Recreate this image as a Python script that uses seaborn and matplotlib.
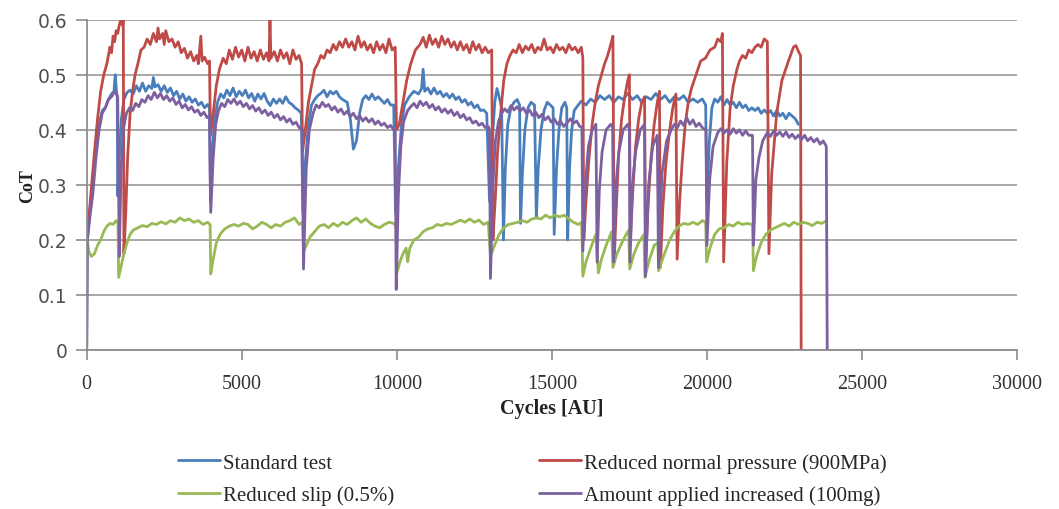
import matplotlib
matplotlib.use("Agg")
import matplotlib.pyplot as plt
import seaborn as sns
import pandas as pd
from matplotlib.lines import Line2D

series_names = ["Standard test", "Reduced normal pressure (900MPa)",
                "Reduced slip (0.5%)", "Amount applied increased (100mg)"]
series_colors = ["#4a7ebb", "#be4b48", "#98b954", "#7d60a0"]

x_ticks = [0, 5000, 10000, 15000, 20000, 25000, 30000]
y_ticks = [0, 0.1, 0.2, 0.3, 0.4, 0.5, 0.6]
y_tick_labels = ["0", "0.1", "0.2", "0.3", "0.4", "0.5", "0.6"]

# (cycles, CoT)
standard_test = [(0,0.0),(20,0.20),(100,0.25),(200,0.31),(300,0.37),(400,0.41),(500,0.435),(600,0.44),(700,0.455),(800,0.465),(880,0.47),(920,0.50),(960,0.47),(985,0.46),(1000,0.28),(1060,0.36),(1120,0.42),(1200,0.455),(1300,0.468),(1400,0.472),(1500,0.465),(1600,0.48),(1700,0.47),(1800,0.485),(1900,0.47),(2000,0.48),(2100,0.475),(2150,0.495),(2200,0.478),(2300,0.482),(2400,0.47),(2500,0.48),(2600,0.468),(2700,0.476),(2800,0.462),(2900,0.47),(3000,0.456),(3100,0.465),(3200,0.452),(3300,0.46),(3400,0.45),(3500,0.456),(3600,0.445),(3700,0.45),(3800,0.44),(3900,0.446),(3960,0.44),(3990,0.27),(4060,0.37),(4130,0.42),(4220,0.45),(4320,0.465),(4420,0.458),(4520,0.472),(4620,0.462),(4720,0.476),(4820,0.46),(4920,0.47),(5020,0.462),(5120,0.472),(5220,0.458),(5320,0.466),(5420,0.452),(5520,0.465),(5620,0.456),(5720,0.466),(5820,0.452),(5920,0.444),(6020,0.456),(6120,0.448),(6220,0.456),(6320,0.448),(6420,0.46),(6520,0.45),(6620,0.446),(6720,0.44),(6820,0.436),(6920,0.43),(6970,0.25),(7050,0.34),(7150,0.41),(7250,0.445),(7350,0.455),(7450,0.462),(7550,0.466),(7650,0.472),(7750,0.46),(7850,0.47),(7950,0.465),(8050,0.47),(8150,0.46),(8250,0.455),(8400,0.45),(8500,0.42),(8600,0.365),(8700,0.38),(8800,0.43),(8900,0.455),(9000,0.462),(9100,0.455),(9200,0.465),(9300,0.455),(9400,0.46),(9500,0.454),(9600,0.448),(9700,0.455),(9800,0.445),(9900,0.445),(9960,0.25),(10050,0.33),(10150,0.41),(10250,0.445),(10400,0.46),(10550,0.47),(10700,0.465),(10800,0.475),(10850,0.51),(10900,0.47),(11000,0.476),(11100,0.465),(11200,0.476),(11300,0.465),(11400,0.47),(11500,0.46),(11600,0.466),(11700,0.458),(11800,0.465),(11900,0.455),(12000,0.46),(12100,0.45),(12200,0.455),(12300,0.445),(12400,0.45),(12500,0.44),(12600,0.445),(12700,0.435),(12800,0.436),(12900,0.43),(12990,0.27),(13080,0.38),(13160,0.45),(13230,0.475),(13300,0.46),(13380,0.44),(13440,0.20),(13500,0.33),(13580,0.41),(13680,0.44),(13780,0.45),(13880,0.455),(13960,0.445),(13990,0.23),(14050,0.32),(14130,0.40),(14230,0.44),(14330,0.45),(14440,0.445),(14500,0.24),(14560,0.33),(14650,0.40),(14750,0.435),(14850,0.45),(14950,0.445),(15040,0.44),(15075,0.21),(15150,0.33),(15230,0.40),(15320,0.44),(15420,0.45),(15480,0.44),(15510,0.20),(15570,0.33),(15640,0.40),(15720,0.435),(15850,0.445),(15950,0.452),(16100,0.445),(16250,0.456),(16400,0.45),(16550,0.462),(16700,0.455),(16850,0.462),(17000,0.45),(17150,0.46),(17300,0.455),(17450,0.466),(17600,0.455),(17750,0.462),(17900,0.45),(18050,0.46),(18200,0.455),(18350,0.466),(18500,0.455),(18650,0.462),(18800,0.45),(18950,0.46),(19100,0.455),(19250,0.462),(19400,0.45),(19550,0.456),(19700,0.45),(19850,0.456),(19960,0.445),(20000,0.27),(20080,0.38),(20160,0.44),(20250,0.456),(20350,0.45),(20450,0.46),(20550,0.445),(20650,0.455),(20750,0.445),(20850,0.45),(20950,0.44),(21050,0.45),(21150,0.44),(21250,0.445),(21350,0.435),(21450,0.44),(21550,0.435),(21650,0.44),(21750,0.43),(21850,0.436),(21950,0.43),(22050,0.435),(22150,0.425),(22250,0.435),(22350,0.425),(22450,0.43),(22550,0.42),(22650,0.43),(22750,0.425),(22850,0.42),(22950,0.41)]

reduced_pressure = [(0,0.20),(100,0.26),(250,0.36),(350,0.42),(450,0.47),(550,0.50),(650,0.52),(750,0.55),(800,0.54),(850,0.57),(900,0.56),(950,0.58),(1000,0.575),(1050,0.59),(1100,0.60),(1150,0.59),(1180,0.60),(1200,0.175),(1260,0.25),(1320,0.35),(1400,0.43),(1480,0.47),(1560,0.50),(1650,0.52),(1750,0.545),(1850,0.55),(1950,0.565),(2050,0.555),(2150,0.575),(2250,0.56),(2300,0.585),(2350,0.565),(2450,0.575),(2500,0.555),(2550,0.58),(2650,0.56),(2750,0.565),(2850,0.55),(2950,0.56),(3050,0.54),(3150,0.548),(3250,0.53),(3350,0.542),(3450,0.525),(3550,0.535),(3600,0.52),(3680,0.57),(3720,0.525),(3800,0.532),(3900,0.52),(3960,0.525),(3990,0.39),(4080,0.43),(4180,0.48),(4280,0.51),(4400,0.53),(4500,0.52),(4600,0.545),(4700,0.528),(4800,0.55),(4900,0.532),(5000,0.545),(5100,0.525),(5200,0.55),(5300,0.53),(5400,0.542),(5500,0.525),(5600,0.545),(5700,0.528),(5800,0.54),(5880,0.525),(5910,0.60),(5940,0.53),(6050,0.542),(6150,0.525),(6250,0.545),(6350,0.53),(6450,0.54),(6550,0.52),(6650,0.545),(6750,0.528),(6850,0.535),(6930,0.52),(6960,0.36),(7050,0.40),(7150,0.45),(7250,0.48),(7350,0.51),(7450,0.52),(7550,0.535),(7650,0.53),(7750,0.545),(7850,0.54),(7950,0.555),(8050,0.545),(8150,0.56),(8250,0.55),(8350,0.565),(8450,0.55),(8550,0.56),(8650,0.545),(8750,0.57),(8850,0.55),(8950,0.56),(9050,0.545),(9150,0.555),(9250,0.54),(9350,0.56),(9450,0.545),(9550,0.555),(9650,0.54),(9750,0.565),(9850,0.545),(9950,0.55),(9990,0.40),(10080,0.41),(10200,0.45),(10320,0.49),(10450,0.52),(10600,0.545),(10750,0.555),(10850,0.568),(10950,0.55),(11050,0.572),(11150,0.555),(11250,0.565),(11350,0.55),(11450,0.57),(11550,0.555),(11650,0.565),(11750,0.55),(11850,0.56),(11950,0.545),(12050,0.56),(12150,0.545),(12250,0.555),(12350,0.54),(12450,0.56),(12550,0.545),(12650,0.555),(12750,0.54),(12850,0.55),(12950,0.54),(13060,0.545),(13100,0.20),(13180,0.28),(13250,0.36),(13350,0.43),(13450,0.49),(13550,0.52),(13650,0.535),(13750,0.545),(13850,0.54),(13950,0.555),(14050,0.54),(14150,0.552),(14250,0.545),(14350,0.555),(14450,0.54),(14550,0.55),(14650,0.545),(14750,0.565),(14850,0.545),(14950,0.55),(15050,0.54),(15150,0.555),(15250,0.545),(15350,0.55),(15450,0.54),(15550,0.555),(15650,0.545),(15750,0.55),(15850,0.54),(15950,0.55),(16000,0.53),(16030,0.20),(16100,0.27),(16200,0.35),(16300,0.41),(16400,0.45),(16500,0.48),(16600,0.50),(16700,0.52),(16800,0.535),(16900,0.555),(16970,0.57),(17010,0.16),(17080,0.26),(17150,0.35),(17250,0.42),(17350,0.46),(17450,0.49),(17500,0.50),(17530,0.20),(17600,0.28),(17700,0.37),(17800,0.42),(17900,0.45),(17990,0.46),(18020,0.15),(18100,0.26),(18200,0.35),(18300,0.41),(18400,0.45),(18470,0.47),(18500,0.15),(18580,0.26),(18680,0.34),(18800,0.40),(18900,0.44),(19000,0.465),(19040,0.165),(19120,0.27),(19200,0.34),(19300,0.41),(19400,0.45),(19500,0.475),(19650,0.50),(19800,0.525),(19950,0.53),(20100,0.545),(20250,0.55),(20350,0.565),(20450,0.56),(20500,0.575),(20540,0.16),(20640,0.34),(20750,0.44),(20850,0.48),(20970,0.51),(21050,0.525),(21150,0.535),(21250,0.53),(21350,0.545),(21450,0.54),(21550,0.55),(21650,0.555),(21750,0.55),(21850,0.565),(21950,0.56),(22000,0.175),(22090,0.32),(22250,0.43),(22420,0.49),(22630,0.525),(22790,0.55),(22870,0.553),(22970,0.54),(23020,0.535),(23040,0.0)]

reduced_slip = [(0,0.21),(60,0.18),(150,0.17),(250,0.175),(350,0.19),(450,0.20),(550,0.215),(650,0.225),(750,0.23),(850,0.228),(950,0.235),(1010,0.23),(1030,0.132),(1100,0.15),(1200,0.175),(1300,0.195),(1400,0.21),(1500,0.218),(1650,0.222),(1800,0.226),(1950,0.224),(2100,0.23),(2250,0.228),(2400,0.233),(2550,0.229),(2700,0.235),(2850,0.232),(3000,0.24),(3150,0.235),(3300,0.238),(3450,0.232),(3600,0.235),(3750,0.228),(3900,0.232),(3980,0.228),(4000,0.138),(4080,0.165),(4180,0.195),(4300,0.21),(4450,0.22),(4600,0.225),(4750,0.228),(4900,0.225),(5050,0.23),(5200,0.228),(5350,0.22),(5500,0.225),(5650,0.232),(5800,0.228),(5950,0.222),(6100,0.228),(6250,0.225),(6400,0.232),(6550,0.235),(6700,0.24),(6850,0.228),(6960,0.232),(7000,0.18),(7080,0.19),(7200,0.205),(7350,0.215),(7500,0.225),(7650,0.228),(7800,0.222),(7950,0.23),(8100,0.225),(8250,0.232),(8400,0.228),(8550,0.235),(8700,0.24),(8850,0.232),(9000,0.238),(9150,0.23),(9300,0.225),(9450,0.222),(9600,0.228),(9750,0.232),(9900,0.23),(9970,0.225),(10010,0.141),(10100,0.16),(10200,0.175),(10300,0.185),(10350,0.16),(10420,0.185),(10550,0.2),(10700,0.205),(10850,0.215),(11000,0.22),(11150,0.222),(11300,0.228),(11450,0.226),(11600,0.23),(11750,0.228),(11900,0.232),(12050,0.236),(12200,0.232),(12350,0.238),(12500,0.232),(12650,0.236),(12800,0.228),(12950,0.232),(13020,0.17),(13150,0.19),(13300,0.21),(13450,0.222),(13600,0.228),(13750,0.23),(13900,0.232),(14050,0.235),(14200,0.232),(14350,0.238),(14500,0.24),(14650,0.238),(14800,0.245),(14950,0.24),(15100,0.245),(15250,0.242),(15400,0.245),(15550,0.238),(15700,0.232),(15850,0.228),(15960,0.232),(16000,0.134),(16100,0.16),(16250,0.185),(16420,0.21),(16500,0.14),(16600,0.165),(16750,0.19),(16930,0.215),(16970,0.15),(17100,0.175),(17300,0.2),(17480,0.218),(17510,0.147),(17650,0.175),(17800,0.195),(17970,0.21),(18000,0.132),(18150,0.165),(18300,0.19),(18420,0.195),(18440,0.144),(18600,0.17),(18800,0.2),(18950,0.215),(19100,0.225),(19250,0.23),(19400,0.228),(19550,0.232),(19700,0.228),(19850,0.235),(19960,0.232),(19990,0.16),(20100,0.185),(20250,0.21),(20400,0.22),(20550,0.222),(20700,0.228),(20850,0.225),(21000,0.232),(21150,0.228),(21300,0.23),(21470,0.228),(21500,0.144),(21600,0.17),(21750,0.195),(21900,0.21),(22050,0.218),(22200,0.222),(22350,0.226),(22500,0.23),(22650,0.225),(22800,0.232),(22950,0.228),(23100,0.232),(23250,0.23),(23400,0.226),(23550,0.232),(23700,0.23),(23870,0.235)]

amount_increased = [(0,0.0),(20,0.20),(100,0.24),(200,0.285),(300,0.35),(400,0.40),(500,0.43),(600,0.44),(700,0.455),(800,0.46),(900,0.47),(1000,0.46),(1050,0.17),(1110,0.33),(1180,0.40),(1280,0.43),(1380,0.44),(1480,0.435),(1580,0.448),(1680,0.442),(1780,0.455),(1880,0.45),(1980,0.462),(2080,0.455),(2180,0.468),(2280,0.458),(2380,0.466),(2480,0.455),(2580,0.462),(2680,0.452),(2780,0.458),(2880,0.446),(2980,0.452),(3080,0.44),(3180,0.446),(3280,0.436),(3380,0.442),(3480,0.432),(3580,0.436),(3680,0.426),(3780,0.432),(3880,0.422),(3960,0.426),(4000,0.25),(4080,0.35),(4160,0.41),(4250,0.435),(4350,0.448),(4450,0.442),(4550,0.455),(4650,0.448),(4750,0.456),(4850,0.446),(4950,0.452),(5050,0.442),(5150,0.448),(5250,0.438),(5350,0.444),(5450,0.434),(5550,0.44),(5650,0.43),(5750,0.436),(5850,0.426),(5950,0.432),(6050,0.422),(6150,0.428),(6250,0.418),(6350,0.424),(6450,0.414),(6550,0.42),(6650,0.41),(6750,0.414),(6850,0.404),(6950,0.40),(6990,0.147),(7080,0.33),(7180,0.40),(7300,0.43),(7400,0.445),(7500,0.44),(7600,0.45),(7700,0.442),(7800,0.446),(7900,0.436),(8000,0.442),(8100,0.432),(8200,0.438),(8300,0.428),(8400,0.434),(8500,0.424),(8600,0.43),(8700,0.42),(8800,0.426),(8900,0.416),(9000,0.422),(9100,0.414),(9200,0.42),(9300,0.41),(9400,0.416),(9500,0.408),(9600,0.412),(9700,0.404),(9800,0.408),(9900,0.40),(9950,0.40),(9980,0.11),(10050,0.28),(10130,0.37),(10220,0.415),(10350,0.435),(10450,0.442),(10550,0.448),(10650,0.44),(10750,0.452),(10850,0.444),(10950,0.45),(11050,0.44),(11150,0.446),(11250,0.436),(11350,0.442),(11450,0.432),(11550,0.438),(11650,0.43),(11750,0.436),(11850,0.426),(11950,0.432),(12050,0.422),(12150,0.428),(12250,0.418),(12350,0.422),(12450,0.412),(12550,0.416),(12650,0.408),(12750,0.412),(12850,0.404),(12950,0.406),(12990,0.40),(13020,0.13),(13100,0.30),(13180,0.38),(13280,0.415),(13380,0.43),(13480,0.438),(13580,0.432),(13680,0.444),(13780,0.436),(13880,0.442),(13980,0.434),(14080,0.44),(14180,0.43),(14280,0.436),(14380,0.426),(14480,0.432),(14580,0.422),(14680,0.428),(14780,0.418),(14880,0.424),(14980,0.414),(15080,0.42),(15180,0.41),(15280,0.416),(15380,0.406),(15480,0.412),(15600,0.42),(15700,0.412),(15800,0.416),(15900,0.406),(15970,0.405),(16000,0.18),(16080,0.30),(16180,0.37),(16300,0.40),(16420,0.41),(16460,0.16),(16530,0.29),(16620,0.36),(16750,0.40),(16900,0.41),(16960,0.405),(16990,0.16),(17070,0.30),(17160,0.36),(17300,0.40),(17450,0.41),(17500,0.40),(17520,0.16),(17600,0.30),(17700,0.36),(17850,0.40),(17990,0.41),(18020,0.134),(18120,0.30),(18250,0.37),(18400,0.39),(18440,0.15),(18550,0.32),(18700,0.38),(18850,0.40),(18950,0.41),(19050,0.404),(19150,0.416),(19250,0.408),(19350,0.422),(19450,0.41),(19550,0.418),(19650,0.406),(19750,0.412),(19850,0.404),(19970,0.40),(20000,0.19),(20090,0.31),(20200,0.37),(20350,0.395),(20450,0.402),(20550,0.394),(20650,0.40),(20750,0.392),(20850,0.402),(20950,0.394),(21050,0.40),(21150,0.39),(21250,0.398),(21350,0.39),(21470,0.39),(21500,0.19),(21580,0.31),(21680,0.35),(21800,0.38),(21950,0.395),(22050,0.388),(22150,0.398),(22250,0.39),(22350,0.396),(22450,0.388),(22550,0.396),(22650,0.386),(22750,0.392),(22850,0.384),(22950,0.39),(23050,0.382),(23150,0.39),(23250,0.38),(23350,0.386),(23450,0.378),(23550,0.384),(23650,0.374),(23750,0.38),(23850,0.37),(23880,0.0)]

all_series = [standard_test, reduced_pressure, reduced_slip, amount_increased]

rows = []
for name, pts in zip(series_names, all_series):
    for x, y in pts:
        rows.append({"series": name, "Cycles": x, "CoT": y})
df = pd.DataFrame(rows)

sns.set_theme(style="white")
plt.rcParams["font.family"] = ["Liberation Serif", "DejaVu Serif"]

W, H = 1059, 510
fig = plt.figure(figsize=(W / 100, H / 100), dpi=100)
L, R, T, B = 86.7, 1017.0, 20.7, 351.0
ax = fig.add_axes([L / W, 1 - B / H, (R - L) / W, (B - T) / H])

sns.lineplot(data=df, x="Cycles", y="CoT", hue="series", hue_order=series_names,
             palette=series_colors, sort=False, estimator=None, linewidth=2.0,
             legend=False, ax=ax)

ax.set_xlim(0, 30000)
ax.set_ylim(0, 0.6)
ax.set_xticks(x_ticks)
ax.set_xticklabels([str(v) for v in x_ticks], fontsize=14.5, color="#333333")
ax.set_yticks(y_ticks)
ax.set_yticklabels(y_tick_labels, fontsize=13.5, color="#505050", family="DejaVu Sans")
ax.yaxis.grid(True, color="#a0a0a0", linewidth=1.3)
ax.xaxis.grid(False)
ax.set_axisbelow(True)
for s in ["top", "right"]:
    ax.spines[s].set_visible(False)
for s in ["left", "bottom"]:
    ax.spines[s].set_color("#8c8c8c")
    ax.spines[s].set_linewidth(1.3)
ax.tick_params(axis="x", bottom=True, direction="out", length=7, width=1.2,
               color="#8c8c8c", pad=10)
ax.tick_params(axis="y", left=True, direction="out", length=8, width=1.2,
               color="#8c8c8c", pad=6)

ax.set_xlabel("Cycles [AU]", fontsize=14.5, fontweight="bold", color="#222222")
ax.xaxis.set_label_coords(0.5, (B - 399) / (B - T))
ax.set_ylabel("CoT", fontsize=13, fontweight="bold", color="#222222")
ax.yaxis.set_label_coords((36 - L) / (R - L), 0.5)

handles = [Line2D([0], [0], color=c, linewidth=2) for c in series_colors]
leg_kw = dict(loc="upper left", frameon=False, borderpad=0, borderaxespad=0,
              handlelength=2.0, handletextpad=0.15, labelspacing=0.6,
              prop={"family": "Liberation Serif", "size": 15})
fig.legend([handles[0], handles[2]], [series_names[0], series_names[2]],
           bbox_to_anchor=(178 / W, 1 - 454 / H), **leg_kw)
fig.legend([handles[1], handles[3]], [series_names[1], series_names[3]],
           bbox_to_anchor=(539 / W, 1 - 454 / H), **leg_kw)

fig.savefig("out.png", dpi=100)
